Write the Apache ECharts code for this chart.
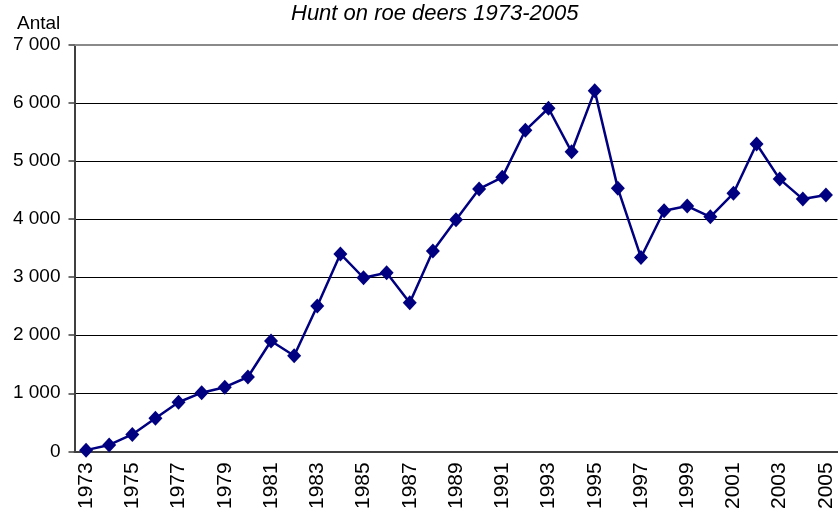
<!DOCTYPE html>
<html>
<head>
<meta charset="utf-8">
<script src="https://cdn.jsdelivr.net/npm/echarts@6/dist/echarts.min.js"></script>
<style>
  html, body { margin: 0; padding: 0; background: #fff; }
  #chart { width: 838px; height: 509px; }
</style>
</head>
<body>
<div id="chart"></div>
<script>
// Roe deer hunt per year
const years = ['1973', '1974', '1975', '1976', '1977', '1978', '1979', '1980', '1981', '1982',
  '1983', '1984', '1985', '1986', '1987', '1988', '1989', '1990', '1991', '1992',
  '1993', '1994', '1995', '1996', '1997', '1998', '1999', '2000', '2001', '2002',
  '2003', '2004', '2005'];
const antal = [20, 110, 290, 570, 845, 1010, 1105, 1280, 1900, 1645,
  2505, 3400, 2990, 3075, 2560, 3450, 3990, 4520, 4720, 5530,
  5910, 5160, 6210, 4530, 3340, 4145, 4225, 4040, 4445, 5295,
  4690, 4345, 4415];

const chart = echarts.init(document.getElementById('chart'));
const font = 'Arial, "Liberation Sans", sans-serif';

const option = {
  backgroundColor: '#fff',
  animation: false,
  title: [
    {
      text: 'Hunt on roe deers 1973-2005',
      left: 286,
      top: -2,
      textStyle: { fontFamily: font, fontSize: 22, fontStyle: 'italic', fontWeight: 'normal', color: '#000' }
    },
    {
      text: 'Antal',
      left: 12,
      top: 9,
      textStyle: { fontFamily: font, fontSize: 19, fontWeight: 'normal', color: '#000' }
    }
  ],
  grid: { left: 74.5, right: 0.5, top: 45, bottom: 57.7, outerBoundsMode: 'none' },
  xAxis: [
    {
      type: 'category',
      data: years,
      boundaryGap: true,
      axisLine: { lineStyle: { color: '#404040', width: 2 } },
      axisTick: { interval: 0, length: 6, lineStyle: { color: '#404040', width: 1.5 } },
      axisLabel: {
        interval: 1,
        rotate: 90,
        margin: 11,
        color: '#000',
        fontFamily: font,
        fontSize: 21
      }
    },
    {
      type: 'category',
      data: years,
      position: 'top',
      axisLine: { lineStyle: { color: '#8a8a8a', width: 2 } },
      axisTick: { show: false },
      axisLabel: { show: false }
    }
  ],
  yAxis: {
    type: 'value',
    min: 0,
    max: 7000,
    interval: 1000,
    axisLine: { show: true, lineStyle: { color: '#404040', width: 2 } },
    axisTick: { show: true, length: 6, lineStyle: { color: '#404040', width: 1.5 } },
    splitLine: { lineStyle: { color: '#000', width: 1 } },
    axisLabel: {
      margin: 14,
      color: '#000',
      fontFamily: font,
      fontSize: 19,
      formatter: v => String(v).replace(/\B(?=(\d{3})+(?!\d))/g, ' ')
    }
  },
  series: [
    {
      type: 'line',
      data: antal,
      symbol: 'diamond',
      symbolSize: [14, 15],
      lineStyle: { color: '#000080', width: 2.5 },
      itemStyle: { color: '#000080' }
    }
  ]
};
chart.setOption(option);
</script>
</body>
</html>
